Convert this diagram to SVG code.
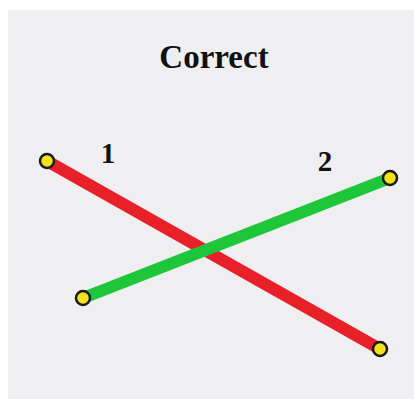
<svg xmlns="http://www.w3.org/2000/svg" width="414" height="399" viewBox="0 0 414 399">
  <defs>
    <style>
      .label { font-family: "Liberation Serif", "Times New Roman", serif; font-weight: bold; fill: #111; text-anchor: middle; }
      .seg { stroke-width: 12; stroke-linecap: round; fill: none; }
      .end { fill: #f2e21c; stroke: #1a1a1a; stroke-width: 2.5; }
    </style>
  </defs>
  <rect x="0" y="0" width="414" height="399" fill="#ffffff"/>
  <rect x="8" y="10" width="406" height="389" fill="#efeff1"/>

  <text class="label" x="214" y="68" font-size="33">Correct</text>

  <g id="connectors">
    <line id="line1" class="seg" x1="47" y1="161" x2="380" y2="349" stroke="#e8202a"/>
    <line id="line2" class="seg" x1="83" y1="298" x2="390" y2="178" stroke="#1ec63a"/>
  </g>

  <g id="node-1a"><circle class="end" cx="47" cy="161" r="7"/></g>
  <g id="node-1b"><circle class="end" cx="380" cy="349" r="7"/></g>
  <g id="node-2a"><circle class="end" cx="83" cy="298" r="7"/></g>
  <g id="node-2b"><circle class="end" cx="390" cy="178" r="7"/></g>

  <g id="label-1"><text class="label" x="108" y="163" font-size="29">1</text></g>
  <g id="label-2"><text class="label" x="325" y="171" font-size="29">2</text></g>
</svg>
